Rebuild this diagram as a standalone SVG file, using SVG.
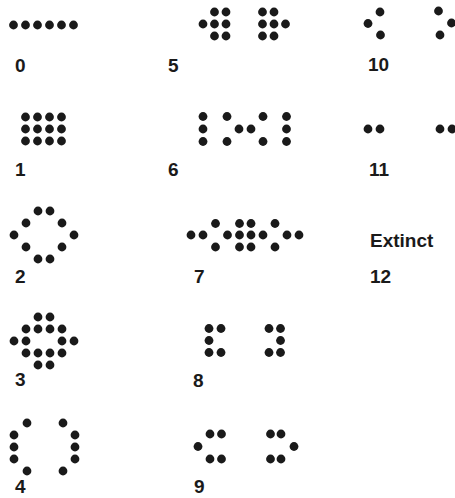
<svg xmlns="http://www.w3.org/2000/svg" width="455" height="498" viewBox="0 0 455 498">
<style>
circle{fill:#1a1a1a}
text{font-family:"Liberation Sans",Arial,sans-serif;font-weight:bold;font-size:19px;fill:#1a1a1a}
</style>
<rect width="455" height="498" fill="#fff"/>
<g id="connectors"/>
<g id="gen0">
<circle cx="13.5" cy="25" r="4.4"/><circle cx="25.5" cy="25" r="4.4"/><circle cx="37.5" cy="25" r="4.4"/><circle cx="49.5" cy="25" r="4.4"/><circle cx="61.5" cy="25" r="4.4"/><circle cx="73.5" cy="25" r="4.4"/>
<text x="15" y="72">0</text>
</g>
<g id="gen1">
<circle cx="25.5" cy="117" r="4.4"/><circle cx="37.5" cy="117" r="4.4"/><circle cx="49.5" cy="117" r="4.4"/><circle cx="61.5" cy="117" r="4.4"/>
<circle cx="25.5" cy="129" r="4.4"/><circle cx="37.5" cy="129" r="4.4"/><circle cx="49.5" cy="129" r="4.4"/><circle cx="61.5" cy="129" r="4.4"/>
<circle cx="25.5" cy="141" r="4.4"/><circle cx="37.5" cy="141" r="4.4"/><circle cx="49.5" cy="141" r="4.4"/><circle cx="61.5" cy="141" r="4.4"/>
<text x="15" y="176">1</text>
</g>
<g id="gen2">
<circle cx="38" cy="211" r="4.4"/><circle cx="50" cy="211" r="4.4"/>
<circle cx="26" cy="223" r="4.4"/><circle cx="62" cy="223" r="4.4"/>
<circle cx="14" cy="235" r="4.4"/><circle cx="74" cy="235" r="4.4"/>
<circle cx="26" cy="247" r="4.4"/><circle cx="62" cy="247" r="4.4"/>
<circle cx="38" cy="259" r="4.4"/><circle cx="50" cy="259" r="4.4"/>
<text x="15" y="283">2</text>
</g>
<g id="gen3">
<circle cx="38" cy="317" r="4.4"/><circle cx="50" cy="317" r="4.4"/>
<circle cx="26" cy="329" r="4.4"/><circle cx="38" cy="329" r="4.4"/><circle cx="50" cy="329" r="4.4"/><circle cx="62" cy="329" r="4.4"/>
<circle cx="14" cy="341" r="4.4"/><circle cx="26" cy="341" r="4.4"/><circle cx="62" cy="341" r="4.4"/><circle cx="74" cy="341" r="4.4"/>
<circle cx="26" cy="353" r="4.4"/><circle cx="38" cy="353" r="4.4"/><circle cx="50" cy="353" r="4.4"/><circle cx="62" cy="353" r="4.4"/>
<circle cx="38" cy="365" r="4.4"/><circle cx="50" cy="365" r="4.4"/>
<text x="15" y="386">3</text>
</g>
<g id="gen4">
<circle cx="27" cy="423" r="4.4"/><circle cx="63" cy="423" r="4.4"/>
<circle cx="14" cy="435" r="4.4"/><circle cx="75" cy="435" r="4.4"/>
<circle cx="14" cy="447" r="4.4"/><circle cx="75" cy="447" r="4.4"/>
<circle cx="14" cy="459" r="4.4"/><circle cx="75" cy="459" r="4.4"/>
<circle cx="27" cy="471" r="4.4"/><circle cx="63" cy="471" r="4.4"/>
<text x="15" y="493">4</text>
</g>
<g id="gen5">
<circle cx="214.5" cy="12" r="4.4"/><circle cx="226" cy="12" r="4.4"/><circle cx="262.5" cy="12" r="4.4"/><circle cx="274" cy="12" r="4.4"/>
<circle cx="203" cy="24" r="4.4"/><circle cx="214.5" cy="24" r="4.4"/><circle cx="226" cy="24" r="4.4"/><circle cx="262.5" cy="24" r="4.4"/><circle cx="274" cy="24" r="4.4"/><circle cx="285.5" cy="24" r="4.4"/>
<circle cx="214.5" cy="36" r="4.4"/><circle cx="226" cy="36" r="4.4"/><circle cx="262.5" cy="36" r="4.4"/><circle cx="274" cy="36" r="4.4"/>
<text x="168" y="72">5</text>
</g>
<g id="gen6">
<circle cx="203" cy="116.5" r="4.4"/><circle cx="227" cy="116.5" r="4.4"/><circle cx="263" cy="116.5" r="4.4"/><circle cx="286.5" cy="116.5" r="4.4"/>
<circle cx="203" cy="129" r="4.4"/><circle cx="239" cy="129" r="4.4"/><circle cx="251" cy="129" r="4.4"/><circle cx="286.5" cy="129" r="4.4"/>
<circle cx="203" cy="141.5" r="4.4"/><circle cx="227" cy="141.5" r="4.4"/><circle cx="263" cy="141.5" r="4.4"/><circle cx="286.5" cy="141.5" r="4.4"/>
<text x="168" y="176">6</text>
</g>
<g id="gen7">
<circle cx="215.5" cy="223.5" r="4.4"/><circle cx="239.5" cy="223.5" r="4.4"/><circle cx="251" cy="223.5" r="4.4"/><circle cx="275" cy="223.5" r="4.4"/>
<circle cx="191" cy="235" r="4.4"/><circle cx="203" cy="235" r="4.4"/><circle cx="227.5" cy="235" r="4.4"/><circle cx="239.5" cy="235" r="4.4"/><circle cx="251" cy="235" r="4.4"/><circle cx="263" cy="235" r="4.4"/><circle cx="287" cy="235" r="4.4"/><circle cx="299" cy="235" r="4.4"/>
<circle cx="215.5" cy="247" r="4.4"/><circle cx="239.5" cy="247" r="4.4"/><circle cx="251" cy="247" r="4.4"/><circle cx="275" cy="247" r="4.4"/>
<text x="194" y="283">7</text>
</g>
<g id="gen8">
<circle cx="209" cy="328.5" r="4.4"/><circle cx="221" cy="328.5" r="4.4"/><circle cx="269" cy="328.5" r="4.4"/><circle cx="280.5" cy="328.5" r="4.4"/>
<circle cx="209" cy="340.5" r="4.4"/><circle cx="280.5" cy="340.5" r="4.4"/>
<circle cx="209" cy="352.5" r="4.4"/><circle cx="221" cy="352.5" r="4.4"/><circle cx="269" cy="352.5" r="4.4"/><circle cx="280.5" cy="352.5" r="4.4"/>
<text x="193" y="387">8</text>
</g>
<g id="gen9">
<circle cx="210" cy="434" r="4.4"/><circle cx="221.5" cy="434" r="4.4"/><circle cx="270.5" cy="434" r="4.4"/><circle cx="281" cy="434" r="4.4"/>
<circle cx="198" cy="446.5" r="4.4"/><circle cx="294" cy="446.5" r="4.4"/>
<circle cx="210" cy="459" r="4.4"/><circle cx="221.5" cy="459" r="4.4"/><circle cx="270.5" cy="459" r="4.4"/><circle cx="281" cy="459" r="4.4"/>
<text x="194" y="493">9</text>
</g>
<g id="gen10">
<circle cx="380" cy="12" r="4.4"/><circle cx="368" cy="23.5" r="4.4"/><circle cx="380.5" cy="35" r="4.4"/>
<circle cx="438.5" cy="11" r="4.4"/><circle cx="451.5" cy="23" r="4.4"/><circle cx="440" cy="35" r="4.4"/>
<text x="368" y="71">10</text>
</g>
<g id="gen11">
<circle cx="368" cy="129" r="4.4"/><circle cx="380" cy="129" r="4.4"/>
<circle cx="440" cy="129" r="4.4"/><circle cx="452" cy="129" r="4.4"/>
<text x="369" y="176">11</text>
</g>
<g id="gen12">
<text x="370" y="247">Extinct</text>
<text x="370" y="283">12</text>
</g>
</svg>
